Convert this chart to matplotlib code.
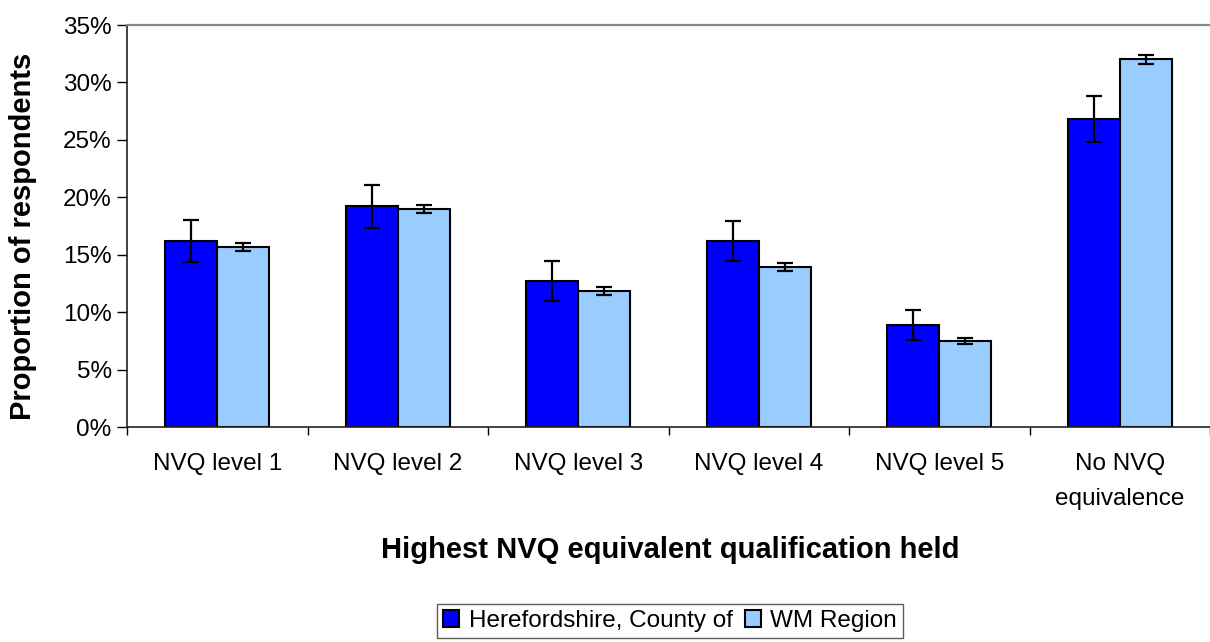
import matplotlib.pyplot as plt
import numpy as np

plt.rcParams['font.family'] = ['Liberation Sans', 'DejaVu Sans']

# Data (percent)
categories = ["NVQ level 1", "NVQ level 2", "NVQ level 3", "NVQ level 4",
              "NVQ level 5", "No NVQ\nequivalence"]
hereford = [16.2, 19.2, 12.7, 16.2, 8.9, 26.8]
hereford_err = [1.8, 1.9, 1.75, 1.75, 1.3, 2.0]
wm_region = [15.7, 19.0, 11.85, 13.95, 7.5, 32.0]
wm_err = [0.35, 0.35, 0.37, 0.35, 0.28, 0.4]
series_names = ["Herefordshire, County of", "WM Region"]
yticks = [0, 5, 10, 15, 20, 25, 30, 35]

W, H = 1210, 642
fig = plt.figure(figsize=(W / 100, H / 100), dpi=100)
ax = fig.add_axes([127 / W, 1 - 427 / H, 1083 / W, 402 / H])

x = np.arange(len(categories))
bw = 0.287
err_kw = dict(ecolor='black', elinewidth=1.6, capthick=1.6, capsize=5.5)
ax.bar(x - bw / 2, hereford, bw, yerr=hereford_err, color='#0000FF',
       edgecolor='black', linewidth=1.5, label=series_names[0], error_kw=err_kw)
ax.bar(x + bw / 2, wm_region, bw, yerr=wm_err, color='#99CCFF',
       edgecolor='black', linewidth=1.5, label=series_names[1], error_kw=err_kw)

ax.set_xlim(-0.5, len(categories) - 0.5)
ax.set_ylim(0, 35)
ax.set_yticks(yticks)
ax.set_yticklabels([f"{v}%" for v in yticks], fontsize=17.5)
ax.tick_params(axis='y', direction='out', length=7, width=1, pad=4)

# category boundaries as major ticks, labels on minor ticks
ax.set_xticks(np.arange(-0.5, len(categories), 1.0))
ax.set_xticklabels([])
ax.set_xticks(x, minor=True)
ax.set_xticklabels(categories, minor=True, fontsize=17.5, linespacing=1.75)
ax.tick_params(axis='x', which='major', direction='out', length=6, width=1)
ax.tick_params(axis='x', which='minor', length=0, pad=19)

for s in ['left', 'bottom']:
    ax.spines[s].set_color('#222222')
    ax.spines[s].set_linewidth(1.2)
ax.spines['right'].set_visible(False)
ax.spines['top'].set_color('#888888')
ax.spines['top'].set_linewidth(1.6)

fig.text(670 / W, 1 - 558 / H, "Highest NVQ equivalent qualification held",
         ha='center', va='baseline', fontsize=21, fontweight='bold')
fig.text(23 / W, 1 - 236 / H, "Proportion of respondents", rotation=90,
         ha='center', va='center', fontsize=21, fontweight='bold')

leg = fig.legend(loc='center', bbox_to_anchor=(670 / W, 1 - 621 / H), ncol=2,
                 fontsize=17.5, frameon=True, fancybox=False, borderpad=0.25,
                 handlelength=0.65, handleheight=0.65, handletextpad=0.4,
                 columnspacing=0.5, borderaxespad=0)
leg.get_frame().set_edgecolor('#333333')
leg.get_frame().set_linewidth(1.0)

fig.savefig('out.png', dpi=100)
